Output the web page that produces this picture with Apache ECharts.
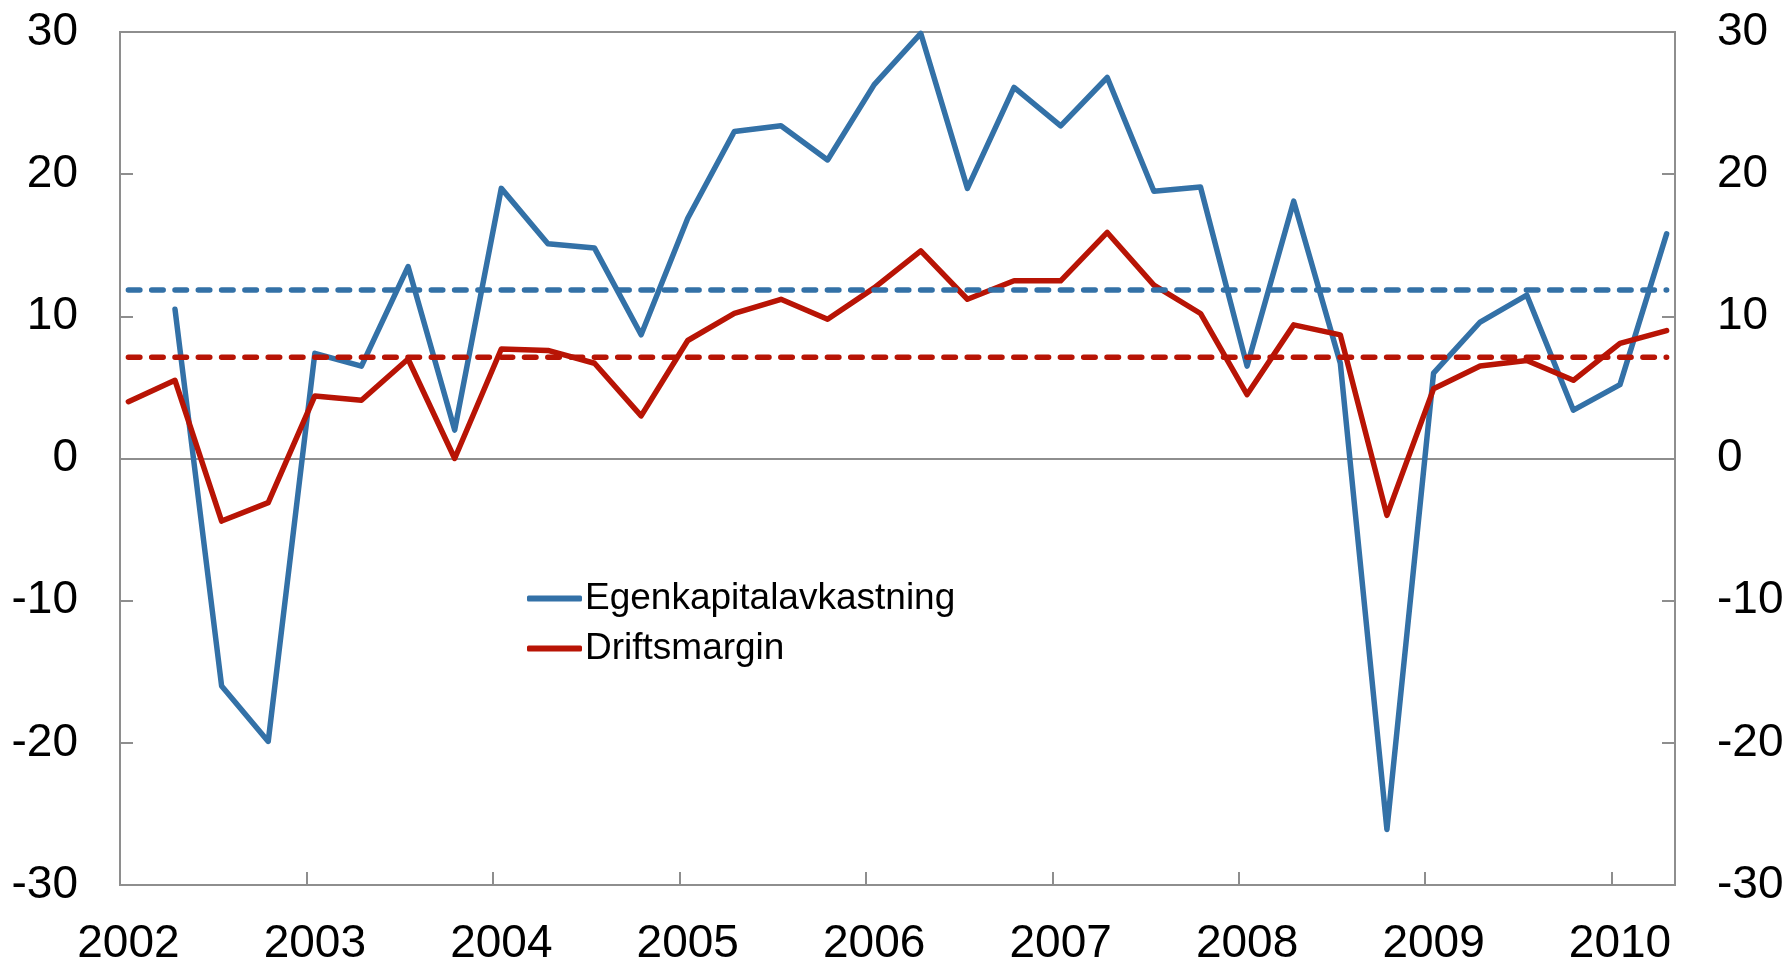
<!DOCTYPE html>
<html>
<head>
<meta charset="utf-8">
<title>Egenkapitalavkastning og driftsmargin</title>
<script src="https://cdn.jsdelivr.net/npm/echarts@6/dist/echarts.min.js"></script>
<style>
    html, body { margin: 0; padding: 0; background: #fff; }
    #chart { width: 1790px; height: 963px; }
</style>
</head>
<body>
<div id="chart"></div>
<script>
// kvartalsvise tall, 2002K1 - 2010K2
const quarters = [
    '2002K1', '2002K2', '2002K3', '2002K4',
    '2003K1', '2003K2', '2003K3', '2003K4',
    '2004K1', '2004K2', '2004K3', '2004K4',
    '2005K1', '2005K2', '2005K3', '2005K4',
    '2006K1', '2006K2', '2006K3', '2006K4',
    '2007K1', '2007K2', '2007K3', '2007K4',
    '2008K1', '2008K2', '2008K3', '2008K4',
    '2009K1', '2009K2', '2009K3', '2009K4',
    '2010K1', '2010K2'
];
const years = [2002, 2003, 2004, 2005, 2006, 2007, 2008, 2009, 2010];
const yTicks = [-30, -20, -10, 0, 10, 20, 30];

const egenkapital = [
    null, 10.5, -16.0, -19.9,
    7.4, 6.5, 13.5, 2.0,
    19.0, 15.1, 14.8, 8.7,
    16.9, 23.0, 23.4, 21.0,
    26.3, 29.9, 19.0, 26.1,
    23.4, 26.8, 18.8, 19.1,
    6.5, 18.1, 6.7, -26.1,
    6.0, 9.6, 11.5, 3.4,
    5.2, 15.8
];
const driftsmargin = [
    4.0, 5.5, -4.4, -3.1,
    4.4, 4.1, 7.0, 0.0,
    7.7, 7.6, 6.7, 3.0,
    8.3, 10.2, 11.2, 9.8,
    12.0, 14.6, 11.2, 12.5,
    12.5, 15.9, 12.2, 10.2,
    4.5, 9.4, 8.7, -4.0,
    4.9, 6.5, 6.9, 5.5,
    8.1, 9.0
];
// gjennomsnitt over perioden
const snittEgenkapital = 11.85;
const snittDrift = 7.13;

const blue = '#3371a7';
const red = '#b81405';
const grey = '#8e8e8e';
const font = 'Liberation Sans, Arial, sans-serif';

// kvartal -> desimalår (observasjonene ligger midt i første måned av kvartalet)
const toX = q => Number(q.slice(0, 4)) + (Number(q.slice(5)) - 1) / 4 + 0.045;

const pairs = arr => quarters.map((q, i) => [toX(q), arr[i]]).filter(p => p[1] !== null);
const flat = v => quarters.map(q => [toX(q), v]);

const chart = echarts.init(document.getElementById('chart'));

const yAxisBase = {
    type: 'value',
    min: yTicks[0],
    max: yTicks[yTicks.length - 1],
    interval: 10,
    axisLine: { show: true, lineStyle: { color: grey, width: 2 } },
    axisTick: { show: true, inside: true, length: 13, lineStyle: { color: grey, width: 2 } },
    splitLine: { show: false },
    axisLabel: { fontSize: 46, color: '#000', fontFamily: font, margin: 42 }
};

chart.setOption({
    animation: false,
    backgroundColor: '#fff',
    grid: {
        left: 120,
        right: 115,
        top: 32,
        bottom: 78,
        outerBoundsMode: 'none',
        containLabel: false,
        show: true,
        borderColor: grey,
        borderWidth: 2
    },
    legend: {
        data: [
            { name: 'Egenkapitalavkastning', icon: 'roundRect', itemStyle: { color: blue } },
            { name: 'Driftsmargin', icon: 'roundRect', itemStyle: { color: red } }
        ],
        orient: 'vertical',
        left: 522,
        top: 575,
        itemWidth: 55,
        itemHeight: 6,
        itemGap: 13,
        textStyle: { fontSize: 37, color: '#000', fontFamily: font, padding: [0, 0, 0, -2] }
    },
    xAxis: {
        type: 'value',
        min: 2002,
        max: 2010.34,
        axisLine: { show: true, onZero: false, lineStyle: { color: grey, width: 2 } },
        axisTick: {
            show: true,
            inside: true,
            length: 13,
            customValues: years,
            lineStyle: { color: grey, width: 2 }
        },
        splitLine: { show: false },
        axisLabel: {
            customValues: years.map(y => y + 0.045),
            formatter: v => String(Math.floor(v)),
            fontSize: 46,
            color: '#000',
            fontFamily: font,
            margin: 36
        }
    },
    yAxis: [
        Object.assign({}, yAxisBase, { position: 'left' }),
        Object.assign({}, yAxisBase, { position: 'right' })
    ],
    series: [
        {
            name: 'Egenkapitalavkastning',
            type: 'line',
            data: pairs(egenkapital),
            symbol: 'none',
            color: blue,
            lineStyle: { color: blue, width: 5.5, cap: 'round', join: 'round' },
            markLine: {
                silent: true,
                z: 1,
                symbol: ['none', 'none'],
                label: { show: false },
                lineStyle: { color: grey, width: 2, type: 'solid' },
                data: [{ yAxis: 0 }]
            }
        },
        {
            name: 'Driftsmargin',
            type: 'line',
            data: pairs(driftsmargin),
            symbol: 'none',
            color: red,
            lineStyle: { color: red, width: 5.5, cap: 'round', join: 'round' }
        },
        {
            name: 'Snitt egenkapitalavkastning',
            type: 'line',
            data: flat(snittEgenkapital),
            symbol: 'none',
            silent: true,
            lineStyle: { color: blue, width: 5.5, type: [11.5, 11.8], cap: 'round' }
        },
        {
            name: 'Snitt driftsmargin',
            type: 'line',
            data: flat(snittDrift),
            symbol: 'none',
            silent: true,
            lineStyle: { color: red, width: 5.5, type: [11.5, 11.8], cap: 'round' }
        }
    ]
});
</script>
</body>
</html>
